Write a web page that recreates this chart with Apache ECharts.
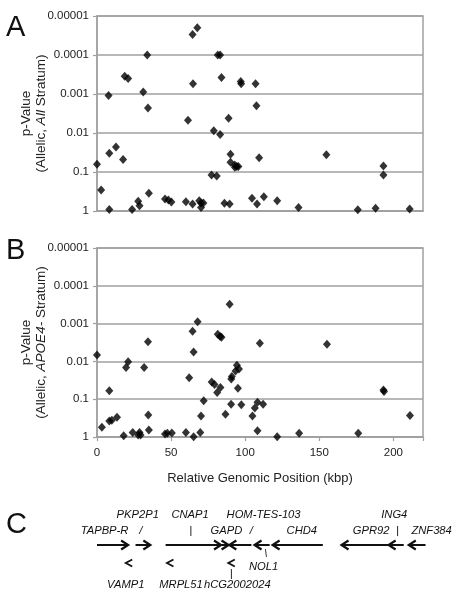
<!DOCTYPE html>
<html><head><meta charset="utf-8">
<script src="https://cdn.jsdelivr.net/npm/echarts@6/dist/echarts.min.js"></script>
<style>html,body{margin:0;padding:0;background:#fff}#c{width:453px;height:595px}</style>
</head><body><div id="c"></div>
<script>
// ---- tick labels ----
const yTickLabels = ['1', '0.1', '0.01', '0.001', '0.0001', '0.00001'];
const xTickLabels = ['0', '50', '100', '150', '200'];

// ---- panel A: allelic p-values, All stratum [kbp, p] ----
const allStratum = [
  [0,0.063],[2.8,0.29],[8.3,0.91],[7.8,0.0011],[8.3,0.033],[12.8,0.023],[17.6,0.048],
  [18.7,0.00035],[21,0.0004],[23.7,0.91],[27.8,0.56],[28.7,0.73],[31.2,0.00089],
  [33.9,0.0001],[34.4,0.0023],[35,0.35],[45.9,0.49],[48.2,0.52],[50.2,0.59],[60,0.58],
  [61.4,0.0047],[64.5,0.66],[64.8,0.00055],[64.5,0.00003],[67.7,0.00002],[69,0.55],
  [70.2,0.62],[71.8,0.62],[70.2,0.81],[77.3,0.12],[80.8,0.126],[78.8,0.0087],[83.1,0.011],
  [81.5,0.0001],[83.1,0.0001],[84,0.00038],[86,0.63],[89.5,0.66],[88.8,0.0042],[90.1,0.035],
  [90.1,0.056],[93,0.066],[94.4,0.072],[93,0.076],[95.4,0.072],[97,0.00048],[97.3,0.00055],
  [107,0.00055],[107.6,0.002],[109.4,0.043],[104.6,0.47],[108,0.66],[112.6,0.43],
  [121.6,0.55],[136,0.81],[154.8,0.036],[193.3,0.07],[193.3,0.12],[176,0.93],[188,0.85],
  [211,0.89]
];

// ---- panel B: allelic p-values, APOE4- stratum [kbp, p] ----
const apoeStratum = [
  [0,0.0068],[3.3,0.55],[8.3,0.06],[8.3,0.38],[10,0.36],[13.5,0.3],[18,0.93],[19.6,0.0145],
  [21,0.0102],[24.1,0.76],[27.8,0.89],[28.7,0.76],[29.4,0.89],[31.8,0.0145],[34.4,0.003],
  [34.6,0.26],[35,0.65],[45.9,0.83],[47.5,0.79],[50.5,0.78],[60,0.76],[62.2,0.027],
  [64.5,0.0016],[65.2,0.0056],[67.9,0.0009],[65.2,0.98],[69.7,0.76],[70.2,0.28],[72,0.11],
  [77.4,0.035],[79.3,0.041],[81.1,0.066],[83.3,0.049],[81.5,0.0019],[83.1,0.0022],
  [84,0.0023],[89.5,0.00031],[90.6,0.029],[91,0.025],[93.5,0.018],[95.8,0.016],
  [94.4,0.0126],[95.1,0.051],[90.5,0.135],[97.4,0.14],[86.7,0.25],[104.9,0.28],
  [106.5,0.17],[108.3,0.12],[112.1,0.135],[108.3,0.68],[109.9,0.0033],[121.6,0.98],
  [136.4,0.79],[155.2,0.0035],[176.3,0.79],[193.3,0.057],[193.7,0.063],[211.2,0.27]
];

// ---- panel C: genes (kbp) ----
const geneStart  = [0, 26, 46.3, 83.9, 89.3, 106.3, 118.5, 165, 196.8, 210.4];
const geneEnd    = [21, 36, 83.7, 88.8, 104.2, 116.5, 152.4, 196.8, 207, 221.7];
const geneStrand = [1, 1, 1, 1, -1, -1, -1, -1, -1, -1];
const reverseMarks = [19.4, 47.2, 88.6];
const geneLabels = ['PKP2P1','CNAP1','HOM-TES-103','ING4','TAPBP-R','/','|','GAPD','/','CHD4',
  'GPR92','|','ZNF384','\\','NOL1','|','VAMP1','MRPL51','hCG2002024'];
const geneLabelPos = [27.5,62.8,112.4,200.6,5.1,29.5,63.3,87.3,104.2,138.2,185,202.7,225.8,
  114,112.4,90.6,19.4,56.7,94.7];
const geneLabelRow = [10,10,10,10,26,26,26,26,26,26,26,26,26,49,62,69,80,80,80];

const FONT = 'Liberation Sans, Arial, sans-serif';
const GRID_C = '#a0a0a0';

function yAxisFor(gridIndex, rich) {
  return {
    type: 'log', logBase: 10, gridIndex, min: 0.00001, max: 1, inverse: true,
    axisLine: { show: true, lineStyle: { color: GRID_C, width: 1.5 } },
    axisTick: { show: true, length: 4, lineStyle: { color: GRID_C, width: 1.2 } },
    axisLabel: { color: '#222', fontFamily: FONT, fontSize: 11.5, margin: 8,
      formatter: v => yTickLabels[Math.round(-Math.log10(v))] },
    splitLine: { show: true, lineStyle: { color: GRID_C, width: 1.5 } },
    name: rich, nameLocation: 'middle', nameRotate: 90, nameGap: 48, nameMoveOverlap: false,
    nameTextStyle: { color: '#222', fontFamily: FONT, fontSize: 13.5, lineHeight: 15,
      rich: { n: { fontFamily: FONT, fontSize: 13.5, color: '#222', lineHeight: 15 },
              i: { fontFamily: FONT, fontSize: 13.5, color: '#222', fontStyle: 'italic', lineHeight: 15 } } }
  };
}

function renderGene(params, api) {
  const s = api.coord([api.value(0), api.value(2)]);
  const e = api.coord([api.value(1), api.value(2)]);
  const strand = api.value(3);
  const y = s[1];
  const hx = strand > 0 ? e[0] : s[0];
  const d = strand > 0 ? -1 : 1;
  return { type: 'group', children: [
    { type: 'line', shape: { x1: s[0], y1: y, x2: e[0], y2: y }, style: { stroke: '#111', lineWidth: 2 } },
    { type: 'polyline', shape: { points: [[hx + d * 7, y - 4.5], [hx, y], [hx + d * 7, y + 4.5]] },
      style: { stroke: '#111', lineWidth: 2.2, fill: null } }
  ]};
}
function renderChevron(params, api) {
  const p = api.coord([api.value(0), api.value(1)]);
  return { type: 'polyline', shape: { points: [[p[0] + 6.5, p[1] - 3.5], [p[0], p[1]], [p[0] + 6.5, p[1] + 3.5]] },
    style: { stroke: '#111', lineWidth: 1.8, fill: null } };
}
function renderLabel(params, api) {
  const p = api.coord([api.value(0), api.value(1)]);
  return { type: 'text', x: p[0], y: p[1], style: { text: geneLabels[params.dataIndex],
    fontFamily: FONT, fontSize: 11.2, fontStyle: 'italic', fill: '#111', align: 'center', verticalAlign: 'middle' } };
}

const chart = echarts.init(document.getElementById('c'), null, { renderer: 'canvas' });
chart.setOption({
  animation: false,
  backgroundColor: '#fff',
  grid: [
    { left: 97, right: 30, top: 16, height: 195, show: true, borderColor: GRID_C, borderWidth: 1.5 },
    { left: 97, right: 30, top: 248, height: 189, show: true, borderColor: GRID_C, borderWidth: 1.5 },
    { left: 97, right: 30, top: 505, height: 90 }
  ],
  xAxis: [
    { type: 'value', gridIndex: 0, min: 0, max: 220, interval: 50,
      axisLine: { show: true, lineStyle: { color: GRID_C, width: 1.5 } },
      axisTick: { show: false }, axisLabel: { show: false }, splitLine: { show: false } },
    { type: 'value', gridIndex: 1, min: 0, max: 220, interval: 50,
      axisLine: { show: true, lineStyle: { color: GRID_C, width: 1.5 } },
      axisTick: { show: true, length: 4, lineStyle: { color: GRID_C, width: 1.2 } },
      axisLabel: { color: '#222', fontFamily: FONT, fontSize: 11.5, margin: 10,
        formatter: v => (v % 50 === 0 ? xTickLabels[v / 50] : '') },
      splitLine: { show: false },
      name: 'Relative Genomic Position (kbp)', nameLocation: 'middle', nameGap: 35,
      nameTextStyle: { color: '#222', fontFamily: FONT, fontSize: 13 } },
    { type: 'value', gridIndex: 2, min: 0, max: 220, show: false }
  ],
  yAxis: [
    yAxisFor(0, '{n|p-Value}\n{n|(Allelic, }{i|All}{n| Stratum)}'),
    yAxisFor(1, '{n|p-Value}\n{n|(Allelic, }{i|APOE4-}{n| Stratum)}'),
    { type: 'value', gridIndex: 2, min: 0, max: 90, inverse: true, show: false }
  ],
  series: [
    { type: 'scatter', xAxisIndex: 0, yAxisIndex: 0, data: allStratum, symbol: 'diamond',
      symbolSize: [8, 9], itemStyle: { color: '#000' } },
    { type: 'scatter', xAxisIndex: 1, yAxisIndex: 1, data: apoeStratum, symbol: 'diamond',
      symbolSize: [8, 9], itemStyle: { color: '#000' } },
    { type: 'custom', xAxisIndex: 2, yAxisIndex: 2, clip: false, renderItem: renderGene,
      data: geneStart.map((s, i) => [s, geneEnd[i], 40, geneStrand[i]]) },
    { type: 'custom', xAxisIndex: 2, yAxisIndex: 2, clip: false, renderItem: renderChevron,
      data: reverseMarks.map(k => [k, 58]) },
    { type: 'custom', xAxisIndex: 2, yAxisIndex: 2, clip: false, renderItem: renderLabel,
      data: geneLabelPos.map((k, i) => [k, geneLabelRow[i]]) }
  ],
  graphic: [
    { type: 'text', left: 6, top: 13, style: { text: 'A', font: '29px ' + FONT, fill: '#111' } },
    { type: 'text', left: 6, top: 236, style: { text: 'B', font: '29px ' + FONT, fill: '#111' } },
    { type: 'text', left: 6, top: 510, style: { text: 'C', font: '29px ' + FONT, fill: '#111' } }
  ]
});
</script></body></html>
